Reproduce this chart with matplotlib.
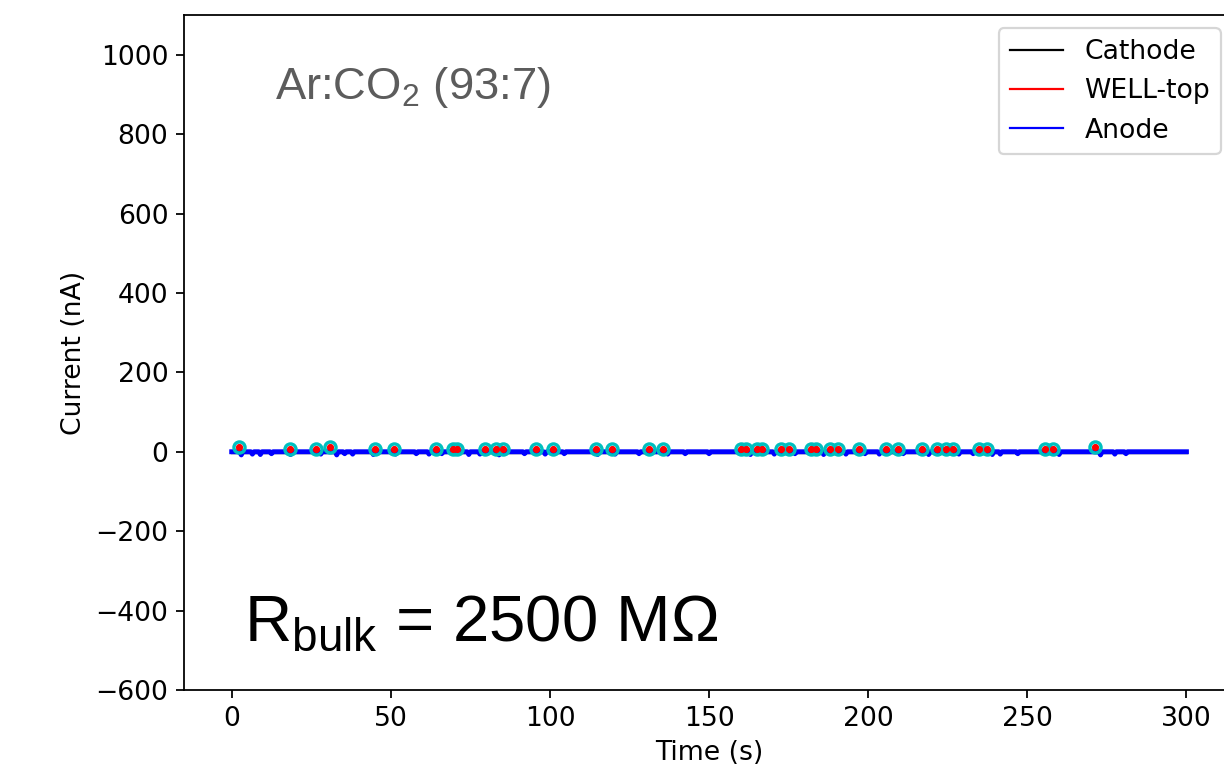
import matplotlib
matplotlib.use("Agg")
import matplotlib.pyplot as plt
from matplotlib.lines import Line2D
import numpy as np

plt.rcParams['font.size'] = 12
plt.rcParams['mathtext.fontset'] = 'custom'
plt.rcParams['mathtext.rm'] = 'Liberation Sans'

# sampled currents, nA, one reading every half second
time_s = np.arange(0, 300.5, 0.5)

# spikes flagged by the peak finder (time, height)
spike_t = [2.3, 18.2, 26.6, 30.8, 45.0, 50.9, 64.3, 69.5, 70.9, 79.6, 82.9, 85.2,
           95.5, 101.1, 114.6, 119.4, 131.1, 135.5, 159.9, 161.7, 165.2, 166.7,
           172.7, 175.1, 182.1, 183.7, 188.0, 190.6, 197.1, 205.5, 209.3, 217.0,
           221.5, 224.3, 226.7, 234.8, 237.4, 255.7, 258.1, 271.4]
spike_i = [13, 7, 7, 13, 7, 7, 7, 7, 7, 7, 7, 7,
           7, 7, 7, 7, 7, 7, 7, 7, 7, 7,
           7, 7, 7, 7, 7, 7, 7, 7, 7, 7,
           7, 7, 7, 7, 7, 7, 7, 13]

# short negative excursions on the anode
dip_t = [3.0, 6.5, 9.0, 12.5, 18.5, 28.0, 33.0, 35.5, 38.0, 44.5, 51.5, 58.0,
         62.0, 66.0, 74.5, 78.0, 84.0, 92.0, 98.5, 104.5, 115.0, 120.5, 128.0,
         137.0, 142.5, 150.0, 163.0, 170.5, 177.0, 186.0, 193.0, 199.0, 203.5,
         211.0, 219.0, 228.5, 233.0, 239.0, 241.5, 247.0, 260.0, 273.0, 277.5, 281.0]
dip_i = [-8, -6, -7, -5, -7, -6, -8, -5, -6, -7, -6, -5,
         -6, -5, -7, -6, -8, -5, -6, -5, -7, -6, -5,
         -6, -5, -5, -7, -6, -5, -7, -6, -5, -6,
         -5, -7, -6, -5, -7, -6, -5, -7, -8, -6, -5]

cathode = np.zeros_like(time_s)
well_top = np.zeros_like(time_s)
anode = np.zeros_like(time_s)
for t, v in zip(spike_t, spike_i):
    k = int(round(t * 2))
    well_top[k] = v * 0.4
for t, v in zip(dip_t, dip_i):
    k = int(round(t * 2))
    anode[k] = v

fig = plt.figure(figsize=(7.65, 4.875), dpi=160)
ax = fig.add_axes([0.1503, 0.1154, 0.858, 0.8654])

ax.plot(time_s, cathode, color='k', lw=1.5)
ax.plot(time_s, well_top, color='r', lw=1.5)
ax.plot(time_s, anode, color='b', lw=2.2)
ax.plot(spike_t, spike_i, 'o', mfc='none', mec='c', ms=5, mew=1.5)
ax.plot(spike_t, spike_i, 'o', color='r', ms=2.2)

ax.set_xlim(-15, 315)
ax.set_ylim(-600, 1100)
ax.set_yticks(np.arange(-600, 1001, 200))
ax.set_xlabel('Time (s)')
ax.set_ylabel('Current (nA)')
ax.spines['right'].set_visible(False)

handles = [Line2D([], [], color='k', lw=1),
           Line2D([], [], color='r', lw=1),
           Line2D([], [], color='b', lw=1)]
ax.legend(handles, ['Cathode', 'WELL-top', 'Anode'], loc='upper right')

ax.text(13.5, 888, r'Ar:CO$_\mathregular{2}$ (93:7)', fontsize=20.4,
        color='#5c5c5c', family='Liberation Sans')
ax.text(3.8, -477, r'R$_\mathregular{bulk}$ = 2500 M$\Omega$', fontsize=29.4,
        color='k', family='Liberation Sans')

fig.savefig('out.png', dpi=160)
